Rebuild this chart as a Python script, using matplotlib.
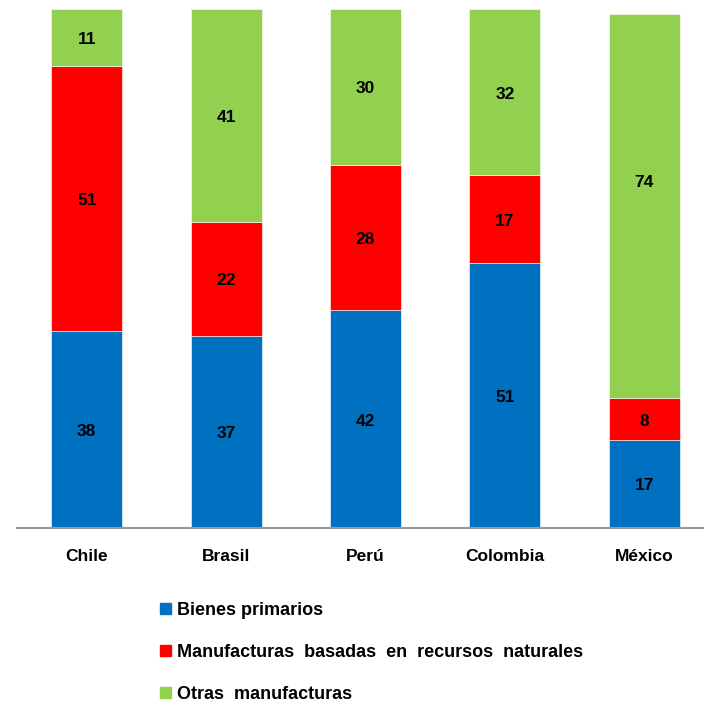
import matplotlib
matplotlib.use("Agg")
import matplotlib.pyplot as plt
from matplotlib.patches import Patch

plt.rcParams['font.family'] = ['Liberation Sans', 'DejaVu Sans']

paises = ["Chile", "Brasil", "Perú", "Colombia", "México"]
bienes_primarios = [38, 37, 42, 51, 17]
manuf_recursos = [51, 22, 28, 17, 8]
otras_manuf = [11, 41, 30, 32, 74]

series = ["Bienes primarios", "Manufacturas  basadas  en  recursos  naturales", "Otras  manufacturas"]
colores = ["#0070C0", "#FF0000", "#92D050"]

W, H = 704, 705
fig = plt.figure(figsize=(W / 100, H / 100), dpi=100)
ax = fig.add_axes([17 / W, 1 - 528 / H, (714 - 17) / W, (528 - 9) / H])

x = list(range(len(paises)))
base = [0] * len(paises)
for k, (vals, col) in enumerate(zip([bienes_primarios, manuf_recursos, otras_manuf], colores)):
    ax.bar(x, vals, bottom=base, width=0.51, color=col, edgecolor="white", linewidth=0.4)
    for i, v in enumerate(vals):
        # in the original the Mexico "otras" label sits higher than the middle
        dy = 24 if (k == 2 and i == 4) else -2
        ax.annotate(str(v), (i, base[i] + v / 2), xytext=(0, dy), textcoords="offset pixels",
                    ha="center", va="center", fontsize=12.5, fontweight="bold")
    base = [b + v for b, v in zip(base, vals)]

ax.set_xlim(-0.5, 4.5)
ax.set_ylim(0, 100)
ax.set_xticks(x)
ax.set_xticklabels(paises, fontsize=12.5, fontweight="bold")
ax.tick_params(axis="x", length=0, pad=15)
ax.set_yticks([])
for s in ["left", "right", "top"]:
    ax.spines[s].set_visible(False)
ax.spines["bottom"].set_color("#999999")
ax.spines["bottom"].set_linewidth(1.5)

handles = [Patch(color=c) for c in colores]
fig.legend(handles, series, loc="upper left", bbox_to_anchor=(160 / W, 1 - 602 / H),
           frameon=False, prop={"size": 13, "weight": "bold"},
           handlelength=0.6, handleheight=0.6, handletextpad=0.35,
           labelspacing=1.38, borderpad=0, borderaxespad=0)

fig.savefig("out.png", dpi=100)
